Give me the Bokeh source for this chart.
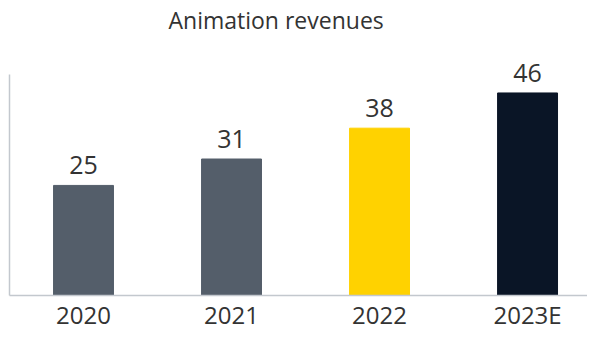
from bokeh.plotting import figure
from bokeh.models import ColumnDataSource, Range1d, FixedTicker, Label, LabelSet
from bokeh.core.properties import value
from bokeh.embed import file_html
from bokeh.resources import INLINE

years = ["2020", "2021", "2022", "2023E"]
revenues = [25, 31, 38, 46]
bar_colors = ["#545E6A", "#545E6A", "#FFD200", "#0A1526"]
labels = [str(v) for v in revenues]
idx = list(range(len(years)))

src = ColumnDataSource(dict(x=idx, top=revenues, color=bar_colors, label=labels))

AXIS_TOP = 50.3   # value at which the left axis line ends
Y_END = 67.0      # extra headroom in the frame for the title
p = figure(width=587, height=333, x_range=Range1d(-0.5, 3.405),
           y_range=Range1d(0, Y_END), output_backend="svg", toolbar_location=None,
           min_border_left=9, min_border_right=0, min_border_top=0, min_border_bottom=27)

p.vbar(x="x", top="top", width=0.405, color="color", source=src)

p.add_layout(LabelSet(x="x", y="top", text="label", source=src, text_align="center",
                      text_baseline="bottom", y_offset=11, text_font=value("Open Sans"),
                      text_font_size="25px", text_color="#333333"))

p.add_layout(Label(x=-0.5, y=AXIS_TOP, x_offset=159, y_offset=54.5,
                   text="Animation revenues", text_font="Open Sans", text_font_size="23px",
                   text_color="#333333", text_align="left", text_baseline="alphabetic"))

p.grid.visible = False
p.outline_line_color = None
p.background_fill_color = "white"

p.xaxis.ticker = FixedTicker(ticks=idx)
p.xaxis.major_label_overrides = {i: y for i, y in zip(idx, years)}
p.xaxis.axis_line_color = "#C3C8CE"
p.xaxis.axis_line_width = 1.5
p.xaxis.major_tick_out = 0
p.xaxis.major_tick_in = 0
p.xaxis.minor_tick_line_color = None
p.xaxis.major_label_text_font = "Open Sans"
p.xaxis.major_label_text_font_size = "24px"
p.xaxis.major_label_text_color = "#333333"
p.xaxis.major_label_standoff = 2

p.yaxis.ticker = FixedTicker(ticks=[])
p.yaxis.bounds = (0, AXIS_TOP)
p.yaxis.axis_line_color = "#C3C8CE"
p.yaxis.axis_line_width = 1.5
p.yaxis.major_tick_out = 0
p.yaxis.major_tick_in = 0
p.yaxis.minor_tick_line_color = None

open("out.html", "w").write(file_html(p, INLINE))
